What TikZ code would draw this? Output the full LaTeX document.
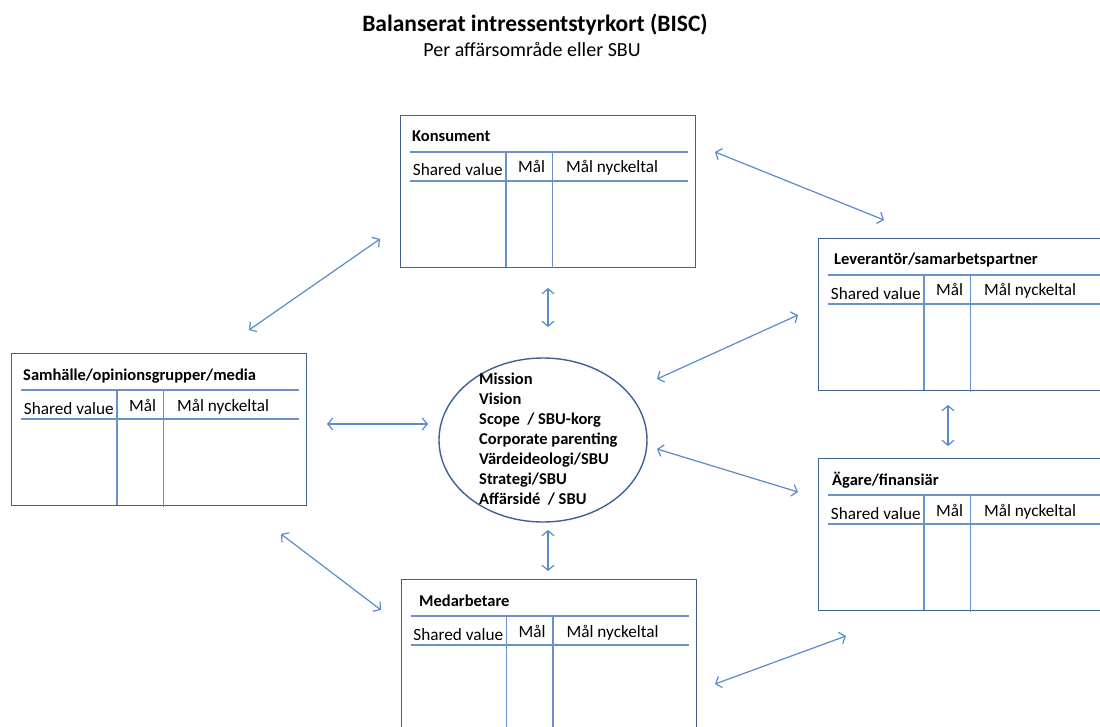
\documentclass[tikz,border=0pt]{standalone}
\usepackage{fontspec}
\setmainfont{Carlito}
\usetikzlibrary{arrows.meta,shapes.geometric}

\definecolor{frame}{HTML}{3E6193}
\definecolor{rule}{HTML}{6A92C8}
\definecolor{link}{HTML}{5B8ACB}

\tikzset{
  card/.style={draw=frame, line width=1.4pt, rectangle, anchor=north west,
    minimum width=295pt, minimum height=152pt, inner sep=0pt},
  grid/.style={draw=rule, line width=1.2pt},
  cardtitle/.style={font=\fontsize{16.5}{20}\selectfont\bfseries, anchor=base west, inner sep=0pt},
  cell/.style={font=\fontsize{17.2}{20}\selectfont, anchor=base west, inner sep=0pt},
  link/.style={draw=link, line width=1.2pt,
    {Straight Barb[length=5pt,width=12pt]}-{Straight Barb[length=5pt,width=12pt]}},
}

% #1 name, #2 x, #3 y (top left), #4 heading, #5 heading indent
\newcommand\scorecard[5]{%
  \node[card] (#1) at (#2,#3) {};
  \node[cardtitle] (#1-head) at ([shift={(#5,27)}]#1.north west) {#4};
  \draw[grid] ([shift={(10,37)}]#1.north west) -- ([shift={(288,37)}]#1.north west);
  \draw[grid] ([shift={(10,66)}]#1.north west) -- ([shift={(288,66)}]#1.north west);
  \draw[grid] ([shift={(106,37)}]#1.north west) -- ([shift={(106,152)}]#1.north west);
  \draw[grid] ([shift={(152.5,37)}]#1.north west) -- ([shift={(152.5,153.5)}]#1.north west);
  \node[cell] (#1-sv) at ([shift={(12.7,61)}]#1.north west) {Shared value};
  \node[cell] (#1-m) at ([shift={(118,58)}]#1.north west) {Mål};
  \node[cell] (#1-mn) at ([shift={(166,58)}]#1.north west) {Mål nyckeltal};
}

\begin{document}
\begin{tikzpicture}[x=1pt,y=-1pt]
\useasboundingbox (0,0) rectangle (1100,727);
\clip (0,0) rectangle (1100,727);

% heading
\node[font=\fontsize{23.5}{28}\selectfont\bfseries, anchor=base, inner sep=0pt] (title) at (535,32)
  {Balanserat intressentstyrkort (BISC)};
\node[font=\fontsize{20}{24}\selectfont, anchor=base, inner sep=0pt] (subtitle) at (532,57)
  {Per affärsområde eller SBU};

% stakeholder cards
\scorecard{kons}{400}{115}{Konsument}{12}
\scorecard{samh}{11}{353}{Samhälle/opinionsgrupper/media}{12}
\scorecard{lev}{818}{238}{Leverantör/samarbetspartner}{16}
\scorecard{agare}{818}{458}{Ägare/finansiär}{14}
\scorecard{med}{400.5}{579}{Medarbetare}{18.5}

% core ellipse
\node[draw=frame, line width=1.4pt, ellipse, minimum width=208pt, minimum height=164pt] (core) at (543,440) {};
\node[font=\fontsize{16.5}{20}\selectfont\bfseries, align=left, inner sep=0pt, anchor=north west] (corelist) at (479,373)
  {Mission\\Vision\\Scope\ \ / SBU-korg\\Corporate parenting\\Värdeideologi/SBU\\Strategi/SBU\\Affärsidé\ \ / SBU};

% connector ends
\coordinate (kl-a) at (715,152);  \coordinate (kl-b) at (884,220);
\coordinate (ks-a) at (380,239);  \coordinate (ks-b) at (249,330);
\coordinate (kc-a) at (548,288);  \coordinate (kc-b) at (548,327);
\coordinate (sc-a) at (327,424);  \coordinate (sc-b) at (428,424);
\coordinate (cl-a) at (657,379);  \coordinate (cl-b) at (798,315);
\coordinate (ca-a) at (657,449);  \coordinate (ca-b) at (798,492);
\coordinate (la-a) at (948,405);  \coordinate (la-b) at (948,446);
\coordinate (cm-a) at (548,530);  \coordinate (cm-b) at (548,571);
\coordinate (sm-a) at (281,534);  \coordinate (sm-b) at (381,610);
\coordinate (ma-a) at (715,684);  \coordinate (ma-b) at (846,636);

\draw[link] (kl-a) -- (kl-b);
\draw[link] (ks-a) -- (ks-b);
\draw[link] (kc-a) -- (kc-b);
\draw[link] (sc-a) -- (sc-b);
\draw[link] (cl-a) -- (cl-b);
\draw[link] (ca-a) -- (ca-b);
\draw[link] (la-a) -- (la-b);
\draw[link] (cm-a) -- (cm-b);
\draw[link] (sm-a) -- (sm-b);
\draw[link] (ma-a) -- (ma-b);
\end{tikzpicture}
\end{document}
